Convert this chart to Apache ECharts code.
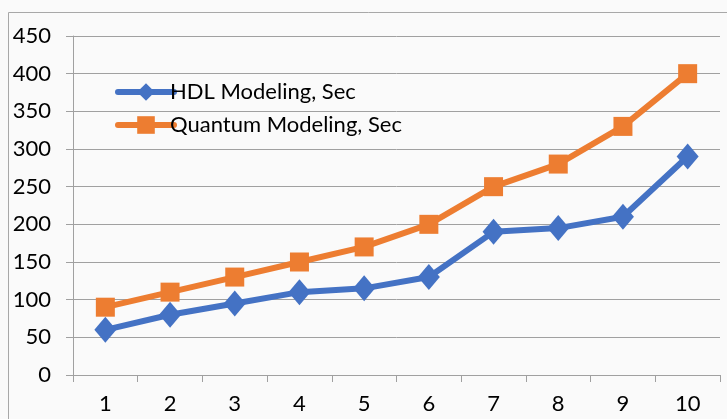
<!DOCTYPE html>
<html><head><meta charset="utf-8">
<script src="https://cdn.jsdelivr.net/npm/echarts@6/dist/echarts.min.js"></script>
<style>html,body{margin:0;padding:0;background:#fff}#c{width:727px;height:419px}</style>
</head><body><div id="c"></div>
<script>
const categories = ['1','2','3','4','5','6','7','8','9','10'];
const hdl = [60, 80, 95, 110, 115, 130, 190, 195, 210, 290];
const quantum = [90, 110, 130, 150, 170, 200, 250, 280, 330, 400];
const seriesNames = ['HDL Modeling, Sec', 'Quantum Modeling, Sec'];

const chart = echarts.init(document.getElementById('c'), null, {renderer:'canvas'});
const font = 'Lato, Liberation Sans, Arial, sans-serif';
chart.setOption({
  backgroundColor: '#fafafa',
  animation: false,
  graphic: [{
    type: 'rect', shape: {x: 8.5, y: 12.5, width: 740, height: 420},
    style: {fill: 'none', stroke: '#a8a8a8', lineWidth: 1}, silent: true, z: -1
  }],
  grid: {left: 73, right: 7, top: 36, bottom: 44, containLabel: false},
  legend: {
    orient: 'vertical', left: 110, top: 76, itemWidth: 56, itemHeight: 22, itemGap: 11,
    lineStyle: {width: 6, cap: 'round'},
    textStyle: {fontFamily: font, fontSize: 22, color: '#000', padding: [0,0,0,-9]},
    data: seriesNames
  },
  xAxis: {
    type: 'category', data: categories, boundaryGap: true,
    axisLine: {lineStyle: {color: '#a0a0a0', width: 1}},
    axisTick: {show: true, length: 7, lineStyle: {color: '#a0a0a0'}},
    axisLabel: {fontFamily: font, fontSize: 22, color: '#000', margin: 18}
  },
  yAxis: {
    type: 'value', min: 0, max: 450, interval: 50,
    axisLine: {show: true, lineStyle: {color: '#a0a0a0', width: 1}},
    axisTick: {show: true, length: 7, lineStyle: {color: '#a0a0a0'}},
    axisLabel: {fontFamily: font, fontSize: 22, color: '#000', margin: 22},
    splitLine: {lineStyle: {color: '#a0a0a0', width: 1}}
  },
  series: [{
    name: seriesNames[0], type: 'line', data: hdl,
    symbol: 'diamond', symbolSize: [22, 26],
    lineStyle: {color: '#4472C4', width: 6},
    itemStyle: {color: '#4472C4'}
  }, {
    name: seriesNames[1], type: 'line', data: quantum,
    symbol: 'rect', symbolSize: 19,
    lineStyle: {color: '#ED7D31', width: 6},
    itemStyle: {color: '#ED7D31'}
  }]
});
</script></body></html>
